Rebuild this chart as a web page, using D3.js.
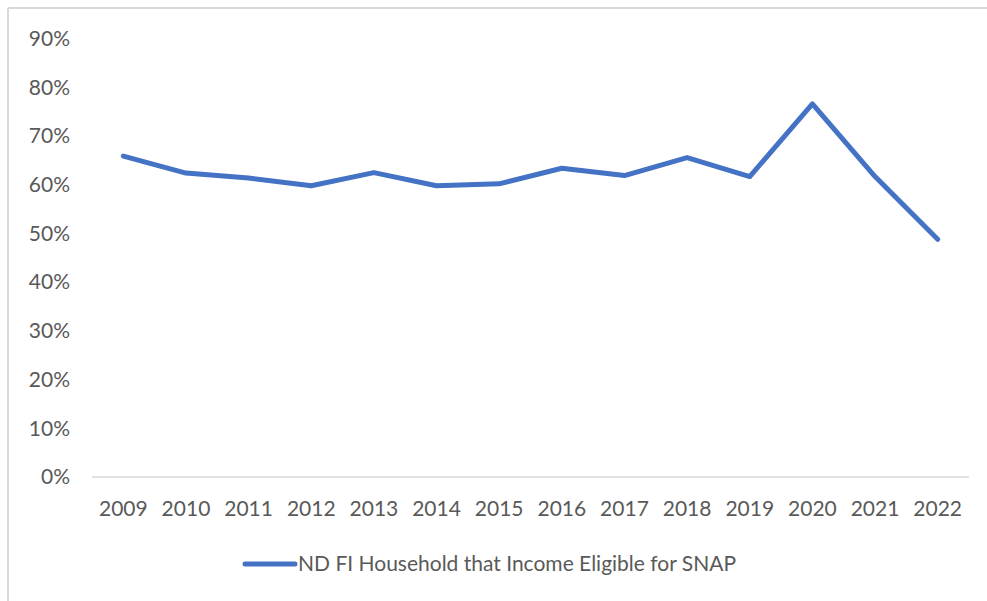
<!DOCTYPE html>
<html>
<head>
<meta charset="utf-8">
<script src="https://cdn.jsdelivr.net/npm/d3@7"></script>
<style>
  html, body { margin: 0; padding: 0; background: #fff; }
  svg { display: block; }
  text { font-family: Lato, "Open Sans", sans-serif; fill: #595959; }
</style>
</head>
<body>
<svg id="chart" width="987" height="601"></svg>
<script>
const years = ["2009","2010","2011","2012","2013","2014","2015","2016","2017","2018","2019","2020","2021","2022"];
const values = [0.659,0.624,0.614,0.598,0.625,0.598,0.602,0.634,0.619,0.656,0.617,0.766,0.617,0.488];
const yTicks = [0,0.1,0.2,0.3,0.4,0.5,0.6,0.7,0.8,0.9];
const seriesName = "ND FI Household that Income Eligible for SNAP";

const svg = d3.select("#chart");
const W = 987, H = 601;

// chart border (top and left visible in reference)
svg.append("line").attr("x1", 8).attr("x2", W).attr("y1", 8).attr("y2", 8)
  .attr("stroke", "#d9d9d9").attr("stroke-width", 2);
svg.append("line").attr("x1", 8).attr("x2", 8).attr("y1", 8).attr("y2", H)
  .attr("stroke", "#d9d9d9").attr("stroke-width", 2);

const x = d3.scaleBand().domain(years).range([92, 969]);
const y = d3.scaleLinear().domain([0, 0.9]).range([477, 38.7]);

// x axis baseline
svg.append("line").attr("x1", 92).attr("x2", 969).attr("y1", y(0)).attr("y2", y(0))
  .attr("stroke", "#d9d9d9").attr("stroke-width", 1.5);

// y tick labels
const yAxis = d3.axisLeft(y).tickValues(yTicks).tickFormat(d3.format(".0%")).tickSize(0).tickPadding(0);
const yg = svg.append("g").attr("transform", "translate(70,0)").call(yAxis);
yg.select(".domain").remove();
yg.selectAll("text").style("font-size", "21px").attr("fill", "#606060")
  .style("font-family", "Lato, sans-serif");

// x tick labels
const xAxis = d3.axisBottom(x).tickSize(0).tickPadding(0);
const xg = svg.append("g").attr("transform", `translate(0,${y(0) + 24})`).call(xAxis);
xg.select(".domain").remove();
xg.selectAll("text").style("font-size", "21px").attr("fill", "#606060")
  .style("font-family", "Lato, sans-serif");

// series line
const line = d3.line()
  .x((d, i) => x(years[i]) + x.bandwidth() / 2)
  .y(d => y(d));
svg.append("path").datum(values)
  .attr("d", line)
  .attr("fill", "none")
  .attr("stroke", "#4472C4")
  .attr("stroke-width", 5)
  .attr("stroke-linejoin", "round")
  .attr("stroke-linecap", "round");

// legend
const lg = svg.append("g");
lg.append("line").attr("x1", 245).attr("x2", 295).attr("y1", 564).attr("y2", 564)
  .attr("stroke", "#4472C4").attr("stroke-width", 5).attr("stroke-linecap", "round");
lg.append("text").attr("x", 298).attr("y", 564).attr("dy", "0.35em")
  .style("font-size", "21px").attr("fill", "#606060").text(seriesName);
</script>
</body>
</html>
